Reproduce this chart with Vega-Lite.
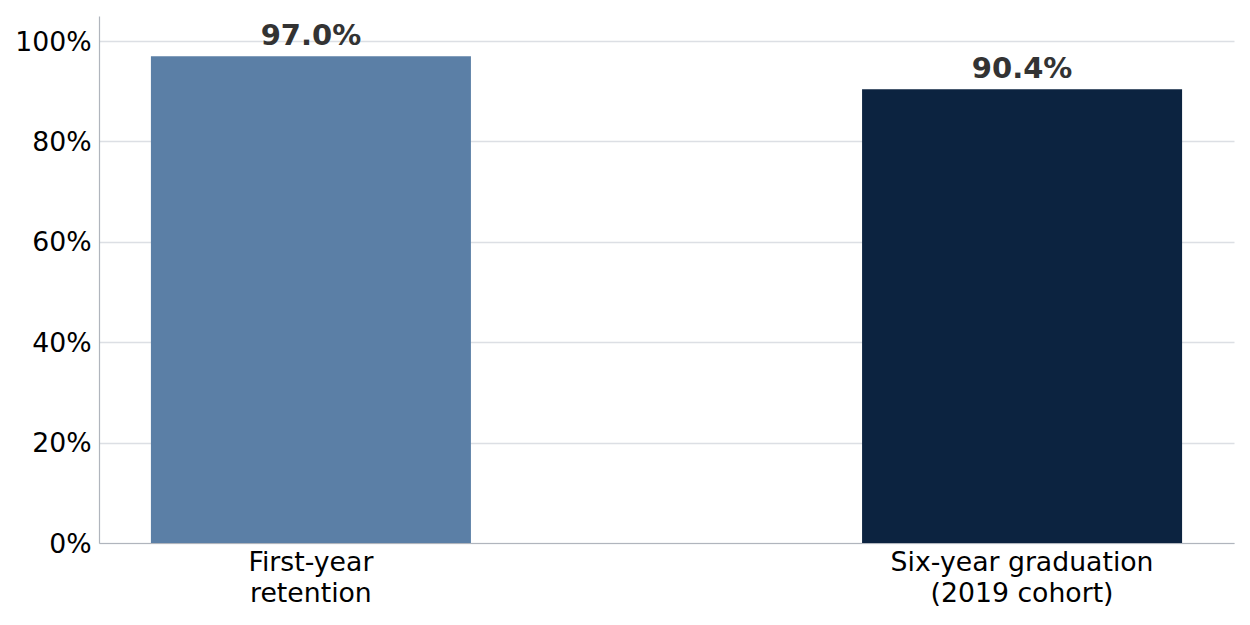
{
  "$schema": "https://vega.github.io/schema/vega-lite/v6.json",
  "width": 1135,
  "height": 527,
  "autosize": {"type": "none"},
  "padding": {"left": 99, "top": 16, "right": 16, "bottom": 82},
  "config": {
    "font": "DejaVu Sans",
    "view": {"stroke": null}
  },
  "data": {
    "values": [
      {"metric": "First-year|retention", "rate": 0.970, "label": "97.0%", "color": "#5b7fa6"},
      {"metric": "Six-year graduation|(2019 cohort)", "rate": 0.904, "label": "90.4%", "color": "#0c2340"}
    ]
  },
  "encoding": {
    "x": {
      "field": "metric",
      "type": "nominal",
      "sort": null,
      "scale": {"paddingInner": 0.55, "paddingOuter": 0.073},
      "axis": {
        "title": null,
        "labelAngle": 0,
        "labelExpr": "split(datum.label, '|')",
        "labelFontSize": 26.7,
        "labelColor": "#000000",
        "labelLineHeight": 31,
        "labelPadding": 6,
        "labelLimit": 600,
        "ticks": false,
        "domainColor": "#b0b5bd",
        "domainWidth": 1.2,
        "grid": false
      }
    },
    "y": {
      "field": "rate",
      "type": "quantitative",
      "scale": {"domain": [0, 1.05], "nice": false},
      "axis": {
        "title": null,
        "values": [0, 0.2, 0.4, 0.6, 0.8, 1.0],
        "format": ".0%",
        "labelFontSize": 26.7,
        "labelColor": "#000000",
        "labelPadding": 8,
        "labelOffset": 1,
        "ticks": false,
        "domainColor": "#b0b5bd",
        "domainWidth": 1.2,
        "gridColor": "#dcdfe4",
        "gridWidth": 1.5
      }
    }
  },
  "layer": [
    {
      "mark": {"type": "bar"},
      "encoding": {
        "color": {"field": "color", "type": "nominal", "scale": null}
      }
    },
    {
      "mark": {
        "type": "text",
        "baseline": "alphabetic",
        "dy": -11,
        "fontSize": 29,
        "fontWeight": "bold",
        "color": "#333333"
      },
      "encoding": {
        "text": {"field": "label"}
      }
    }
  ]
}
